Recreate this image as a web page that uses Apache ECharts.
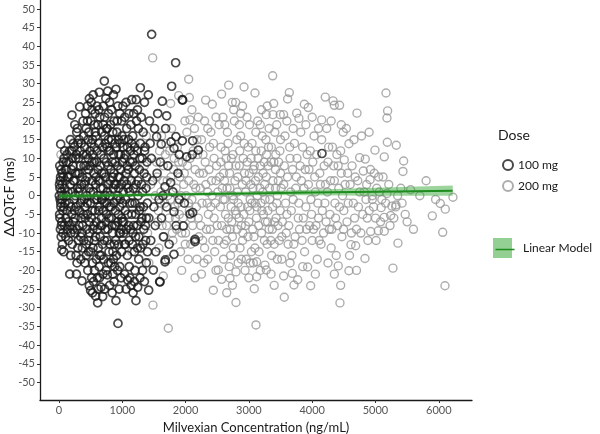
<!DOCTYPE html>
<html>
<head>
<meta charset="utf-8">
<script src="https://cdn.jsdelivr.net/npm/echarts@6/dist/echarts.min.js"></script>
<style>
  html, body { margin: 0; padding: 0; background: #fff; }
  #chart { width: 600px; height: 434px; }
</style>
</head>
<body>
<div id="chart"></div>
<script>
// 坐标轴刻度
var xTicks = [0, 1000, 2000, 3000, 4000, 5000, 6000];
var yTicks = [-50, -45, -40, -35, -30, -25, -20, -15, -10, -5, 0, 5, 10, 15, 20, 25, 30, 35, 40, 45, 50];

// 100 mg: [浓度, ΔΔQTcF]
var dose100 = [
  [12,8],[25,5],[8,3],[40,1],[18,-1],[30,-3],[10,-5],[45,-7],[22,-9],[35,-11],[60,-4],[15,2],[50,6],[28,-2],[70,0],[80,10],[55,-13],[90,12],[27,13.8],[43,-14.5],[100,4],[110,-6],[120,7],[130,-9],[140,1],[95,-2],[65,9],[150,-12],[75,-15],[125,11],
  [170,-21],[205,21.6],[180,15],[200,12],[220,8],[240,4],[260,0],[190,-3],[230,-7],[250,-10],[210,-13],[270,-16],[276,-21],[290,18],[300,14],[310,10],[320,6],[330,2],[340,-2],[350,-6],[360,-10],[370,-14],[363,-22.8],[327,23.8],[280,17],[380,20],[390,16],[160,5],[175,-8],[215,1],[245,-4],[285,-18],[305,-12],[335,12],[395,8],[400,-1],[345,-17],[265,10],[225,14],[185,-16],[355,3],[315,-8],[385,-5],[295,6],[250,19],
  [420,22],[450,24],[480,26],[510,25],[540,27],[637,27.7],[600,24],[570,22],[430,18],[460,15],[490,12],[520,9],[550,6],[580,3],[610,0],[640,-3],[670,-6],[440,-9],[470,-12],[500,-15],[530,-18],[560,-20],[590,-17],[620,-14],[650,-11],[680,-8],[479,-24.1],[500,-25.4],[580,-26.9],[611,-28.7],[664,-24.5],[420,4],[445,-2],[465,7],[495,1],[525,-4],[555,13],[585,16],[615,19],[645,21],[675,17],[690,13],[415,-6],[435,11],[505,20],[535,-9],[565,-1],[595,9],[625,4],[655,2],[685,-1],[410,-18],[455,-20],[515,-22],[545,-23],[605,-22],[635,-19],[665,-16],[695,-21],[470,17],[530,15],[590,-7],[650,8],[700,24],[480,-7],[560,-12],[620,-25],[690,-27],
  [716,30.7],[740,26],[770,28],[800,25],[830,23],[860,27],[900,28.5],[930,24],[960,22],[990,20],[720,21],[750,18],[780,15],[810,12],[840,9],[870,6],[900,3],[930,0],[960,-3],[990,-6],[730,-9],[760,-12],[790,-15],[820,-18],[850,-21],[880,-19],[910,-16],[940,-13],[970,-10],[1000,-7],[763,-21.2],[900,-28.1],[932,-34.2],[800,-24],[840,-26],[870,-23],[950,-25],[980,-22],[710,10],[735,5],[765,1],[795,-3],[825,-6],[855,2],[885,14],[915,17],[945,11],[975,7],[720,-2],[750,-5],[780,8],[810,4],[845,-10],[875,-13],[905,-8],[935,5],[965,14],[995,16],[705,-17],[745,-20],[815,19],[870,20],[925,-20],[990,-15],[760,13],[890,-4],[940,-5],[720,16],
  [1037,-21],[1085,-22.6],[1150,25.7],[1220,25.7],[1285,28.9],[1010,24],[1040,21],[1070,18],[1100,15],[1130,12],[1160,9],[1190,6],[1220,3],[1250,0],[1280,-3],[1310,-6],[1340,-9],[1370,-12],[1020,-10],[1050,-13],[1080,-16],[1110,-19],[1140,-24],[1170,-26],[1216,-28.1],[1243,-24.5],[1200,-20],[1260,-17],[1290,-14],[1320,-20],[1350,-23],[1380,-18],[1030,10],[1060,6],[1090,2],[1120,-2],[1150,-5],[1180,-8],[1210,-11],[1240,-14],[1015,1],[1045,-4],[1075,8],[1105,22],[1135,19],[1165,16],[1195,13],[1225,20],[1255,18],[1285,14],[1315,10],[1345,6],[1375,2],[1395,-2],[1300,21],[1330,17],[1360,13],[1390,9],[1025,15],[1200,-2],[1270,7],[1320,1],[1100,-8],[1160,-13],[1380,-6],
  [1411,27],[1464,43.2],[1843,35.6],[1780,29.3],[1954,25.6],[1632,25.3],[1948,25.7],[1701,21.4],[1685,18],[1848,15.8],[1948,14.7],[2112,14.7],[2201,12.2],[2106,11],[1543,15.8],[1616,13.8],[1770,14.4],[1817,12.7],[2017,10.4],[1880,6],[1764,3.5],[1675,2.4],[2112,-4.5],[1817,-4.3],[2070,-4.9],[2149,-11.7],[1964,-8.1],[1817,-15.7],[1675,-17.7],[1591,-23],[1490,-19.9],[1417,-25.3],[1596,-23.1],[1680,-17.2],[2149,-12.3],[1430,20],[1460,10],[1480,4],[1500,-3],[1520,-8],[1450,-12],[1550,6],[1580,-1],[1600,9],[1620,-6],[1650,-11],[1700,-3],[1720,8],[1740,-13],[1800,1],[1850,-8],[1900,-1],[1420,-6],[1440,14],[1510,18],[1530,-15],[1560,22],[1640,0],[1900,11],[1980,-2],[4155,11.3],
  [5,0],[14,-6],[20,4],[33,7],[38,-8],[48,-1],[52,3],[62,-10],[68,5],[78,-3],[85,-8],[88,2],[98,7],[105,-11],[115,0],[118,9],[128,-4],[135,5],[145,-7],[155,9],[162,-2],[168,12],[178,3],[188,-10],[195,7],[202,-5],[212,10],[218,-9],[228,4],[235,-1],[242,13],[255,-6],[262,6],[272,-3],[278,11],[288,-9],[292,2],[298,-14],
  [308,1],[318,15],[322,-4],[338,8],[342,-11],[352,14],[358,-1],[368,5],[375,-8],[382,11],[392,-12],[398,3],[405,13],[412,-3],[425,8],[432,-13],[438,0],[448,5],[452,-5],[462,10],[468,-15],[476,2],[485,-10],[488,8],[498,-2],[508,14],[512,-6],[522,4],[528,11],[538,-14],[542,1],[552,-8],[558,9],[568,-4],[572,17],[578,-11],[588,5],[598,-1],[602,12],[608,-9],[618,7],[628,-4],[632,14],[642,-16],[648,4],[658,-8],[662,11],[672,-1],[678,6],[688,-13],[698,2],
  [702,-4],[712,6],[718,-12],[728,14],[732,0],[742,-7],[748,9],[758,-2],[762,18],[772,-9],[778,3],[788,12],[792,-6],[802,0],[808,-13],[818,7],[822,-3],[832,15],[838,-8],[848,5],[852,-15],[862,11],[868,-2],[878,3],[882,-8],[892,9],[898,-12],[908,13],[912,-1],[922,8],[928,-7],[938,15],[942,2],[952,-10],[958,5],[968,-1],[972,11],[982,-9],[988,3],[998,9],
  [1005,-2],[1012,13],[1022,-7],[1028,4],[1035,-13],[1048,11],[1055,-1],[1062,-9],[1072,3],[1082,13],[1088,-5],[1095,7],[1108,-12],[1115,1],[1125,9],[1132,-9],[1142,4],[1148,14],[1155,-2],[1168,-10],[1175,2],[1185,11],[1192,-15],[1205,8],[1212,-5],[1230,-8],[1235,12],[1248,4],[1262,-11],[1268,-4],[1278,10],[1295,-7],[1305,3],[1325,-13],[1335,-3],[1352,12],[1365,-8],[1385,5],[1398,-15],
  [560,19],[630,23],[700,19],[780,22],[850,17],[920,20],[1060,25],[1180,22],[1240,23],[1350,25],[450,20],[520,23],
  [640,-22],[720,-25],[780,-18],[860,-17],[960,-19],[1060,-25],[1120,-22],[1190,-23],[1280,-22],[530,-26],[430,-16]
];

// 200 mg: [浓度, ΔΔQTcF]
var dose200 = [
  [30,11],[150,-8],[250,6],[400,-3],[550,10],[700,-6],[850,3],[1000,-12],[1100,5],[1200,14],[1300,-4],[1350,8],[1400,-10],[1450,3],[1480,36.9],[1485,-29.3],[1420,-18],[1380,16],[900,-16],[1250,-8],[600,-1],[1150,-15],
  [1727,-35.5],[1891,26.8],[1764,24.7],[2049,31.2],[2059,26.3],[2070,20.3],[1648,-21.5],[1938,-20],[2149,-22],[2317,25.6],[2422,24.5],[2438,-25.3],[2517,-19.9],[2569,-22.4],
  [1550,5],[1600,-2],[1650,8],[1700,-8],[1750,12],[1800,-12],[1850,2],[1900,-5],[1950,9],[2000,-10],[2050,4],[2100,-1],[2150,7],[2200,-6],[2250,15],[2300,-14],[2350,1],[2400,-3],[2450,10],[2500,-8],
  [1580,-14],[1620,16],[1680,11],[1730,-17],[1780,18],[1830,-3],[1870,13],[1920,-15],[1970,3],[2020,17],[2080,-13],[2120,12],[2180,-17],[2230,2],[2280,6],[2330,-9],[2380,13],[2430,-12],[2480,4],[2530,19],
  [1560,-7],[1610,1],[1660,-11],[1710,4],[1760,-1],[1810,7],[1860,-9],[1910,5],[1960,-6],[2010,0],[2060,-4],[2110,-8],[2160,2],[2210,-11],[2260,-2],[2310,9],[2360,-5],[2410,4],[2460,-15],[2510,1],
  [1990,20],[2140,18],[2200,21],[2040,-17],[2350,18],[2290,-18],[2450,-6],[2400,17],[2100,23],[2250,-21],
  [2681,29.6],[2923,29.1],[3096,27.5],[2569,27.2],[2738,25],[2791,25],[3376,32.1],[3392,24.7],[3274,21.7],[3380,21.7],[2796,-28.6],[3112,-34.6],[3085,-24.9],[2796,-20.4],[2701,-22.1],[3123,-21.7],[3275,-19.9],[3254,-18.6],[3123,-17.7],
  [2550,-3],[2600,6],[2650,-9],[2700,2],[2750,11],[2800,-5],[2850,8],[2900,-12],[2950,1],[3000,-7],[3050,14],[3100,-2],[3150,5],[3200,-10],[3250,3],[3300,-4],[3350,9],[3400,-13],[3450,0],[3500,6],
  [2560,13],[2610,-13],[2660,17],[2710,-16],[2760,-1],[2810,15],[2860,-14],[2910,10],[2960,-17],[3010,19],[3060,-9],[3110,12],[3160,-15],[3210,16],[3260,-7],[3310,13],[3360,-16],[3410,17],[3460,-8],[3490,12],
  [2580,2],[2630,-5],[2680,8],[2730,-7],[2780,4],[2830,-2],[2880,-8],[2930,6],[2980,-3],[3030,3],[3080,-11],[3130,0],[3180,8],[3230,-5],[3280,11],[3330,-1],[3380,4],[3430,-6],[3470,9],[3520,-11],
  [2590,21],[2640,10],[2690,-19],[2740,-11],[2770,20],[2830,-18],[2870,22],[2940,-20],[2990,13],[3040,-15],[3070,7],[3140,20],[3190,-2],[3240,9],[3290,-13],[3320,18],[3370,-9],[3420,7],[3450,-17],[3500,15],
  [2620,-1],[2720,-3],[2820,1],[2920,-5],[3020,-1],[3120,-6],[3220,1],[3320,-9],[3420,2],[2670,14],[2870,16],[3070,-18],[3270,15],[2900,24],[3000,-22],[3200,23],
  [3639,27.6],[3612,25.9],[3495,21.7],[3548,21.7],[3755,22.1],[3876,24.5],[3938,23.6],[3791,20.7],[4150,20.3],[4207,26.4],[4330,25.4],[4349,24.2],[4433,24.2],[3559,-27.2],[4439,-28.7],[3976,-24.1],[3712,-23.9],[3771,-22.5],[3549,-21.5],[3686,-20.8],[3928,-19.1],[4412,-18.8],[4581,-20.1],
  [3550,3],[3600,-5],[3650,10],[3700,-1],[3750,5],[3800,-9],[3850,13],[3900,-3],[3950,7],[4000,-12],[4050,1],[4100,-6],[4150,15],[4200,-2],[4250,9],[4300,-14],[4350,4],[4400,-8],[4450,12],[4500,-4],
  [3570,16],[3620,-13],[3680,-16],[3720,14],[3780,-6],[3820,17],[3880,-15],[3920,11],[3980,-1],[4030,16],[4080,-17],[4120,6],[4180,-10],[4230,18],[4280,-5],[4320,13],[4380,-16],[4420,2],[4470,-11],[4490,17],
  [3590,-10],[3660,1],[3730,-11],[3810,8],[3870,2],[3960,-8],[4010,9],[4060,-8],[4140,-13],[4210,3],[4270,-9],[4360,-2],[4410,8],[4480,0],
  [4507,9.6],[4581,13.9],[4750,10.2],[4839,9.8],[4708,22.1],[4808,6.6],[4981,6],[4915,4.3],[4992,12.2],[5139,10.4],[5187,14.3],[5329,13.5],[5445,9.3],[5434,6.5],[5166,27.5],[5192,22.7],[5181,20.8],[5555,1.6],[6024,-2.1],[6103,-3.6],[6224,-0.4],[5898,-5.4],[5324,-2.5],[5181,0.6],[6062,-9.8],[5355,-12.7],[5276,-19.4],[6098,-24.1],[5139,-9.5],[5240,-5.3],[5139,-5.8],[5320,-3],[5260,-2.8],[5090,-3.2],[4834,-16.8],[5045,-9.4],[4924,-9.6],[4613,-13.1],[4687,-13.4],
  [4550,-7],[4600,3],[4650,-2],[4700,-9],[4750,1],[4800,-5],[4850,-1],[4900,-4],[4950,0],[5000,-6],[4560,6],[4620,-10],[4680,5],[4730,-3],[4780,16],[4860,3],[4880,-12],[4950,-1],[5020,2],[5080,-7],[4660,15],[4540,18],[4590,-16],[4900,17],[5050,5],[5100,-1],[5230,-8],[5400,2],[5470,-5],[5600,-9],[5700,0],[5800,4],[5950,-1],[4700,-20],[4450,-24],
  [1520,0],[1540,9],[1570,-4],[1590,12],[1630,-8],[1640,4],[1670,-2],[1690,14],[1720,0],[1740,-6],[1770,5],[1790,-10],[1820,10],[1840,-6],[1880,-2],[1890,9],[1930,0],[1940,-10],[1980,6],[1995,-13],[2030,8],[2045,-2],[2070,10],[2090,-6],[2130,3],[2140,-12],[2170,-3],[2190,11],[2220,6],[2240,-8],[2270,-12],[2275,11],[2320,3],[2340,-2],[2370,7],[2390,-9],[2420,0],[2440,14],[2470,-2],[2490,8],[2520,-12],[2540,5],
  [2555,9],[2570,-8],[2595,-1],[2615,4],[2625,12],[2645,-12],[2655,2],[2675,-6],[2695,6],[2705,-9],[2725,10],[2745,0],[2755,-14],[2785,-4],[2795,8],[2815,-9],[2825,5],[2845,-6],[2855,12],[2875,-3],[2895,3],[2905,-10],[2925,14],[2945,-8],[2955,4],[2975,9],[2985,-11],[3005,6],[3015,-4],[3035,10],[3045,-2],[3065,2],[3085,8],[3095,-14],[3105,4],[3125,-3],[3145,10],[3155,-8],[3175,2],[3195,12],[3205,-4],[3225,6],[3245,-12],[3255,-1],[3275,5],[3295,-7],[3305,8],[3325,2],[3345,-12],[3355,13],[3375,-3],[3395,9],[3405,-7],[3425,11],[3440,-2],[3465,4],[3480,-12],[3495,-4],
  [3510,2],[3530,-7],[3560,8],[3580,-2],[3610,5],[3630,-8],[3645,13],[3670,-4],[3690,7],[3710,-13],[3740,2],[3760,10],[3790,-2],[3830,4],[3840,-12],[3860,-6],[3890,7],[3910,-9],[3940,3],[3970,12],[3990,-5],[4020,-9],[4040,5],[4070,11],[4090,-2],[4110,-12],[4130,3],[4160,-4],[4190,8],[4220,-7],[4240,1],[4260,13],[4290,4],[4310,-9],[4340,8],[4370,-6],[4390,11],[4430,-3],[4460,6],[4495,-9],
  [4520,3],[4570,-2],[4630,8],[4670,-6],[4720,4],[4770,-10],[4820,1],[4870,-6],[4920,7],[4970,-3],[5010,-12],[5060,1],[5120,5],[5160,-2],[5210,3],[5290,-6],[5350,0],[5420,-2],[5500,-7],
  [2480,21],[2620,19],[2760,23],[2850,19],[2970,21],[3110,17],[3180,19],[3290,24],[3440,19],[3600,20],[3700,18],[3900,19],[4000,21],[4100,18],[4300,20],[4460,19],[2300,20],[2180,15],
  [2350,-17],[2480,-20],[2600,-17],[2740,-24],[2880,-17],[3020,-18],[3180,-20],[3350,-21],[3520,-17],[3650,-18],[3850,-19],[4050,-21],[4250,-18],[4350,-21],[3400,-24],[2650,-26]
];

// 线性模型及置信区间
var fitX  = [0, 1000, 2000, 3000, 4000, 5000, 6220];
var fitY  = [-0.1, 0.13, 0.37, 0.6, 0.84, 1.07, 1.36];
var fitLo = [-0.8, -0.32, -0.03, 0.1, 0.09, 0.02, -0.04];
var fitHi = [0.6, 0.58, 0.77, 1.1, 1.59, 2.12, 2.76];

var font = 'Lato, "DejaVu Sans", sans-serif';

var chart = echarts.init(document.getElementById('chart'));

var option = {
  animation: false,
  textStyle: { fontFamily: font },
  grid: { left: 40, top: 0, right: 128, bottom: 34, containLabel: false, outerBoundsMode: 'none' },
  xAxis: {
    type: 'value',
    min: -300,
    max: 6525,
    name: 'Milvexian Concentration (ng/mL)',
    nameLocation: 'middle',
    nameGap: 17,
    nameTextStyle: { fontSize: 13, color: '#1a1a1a', fontFamily: font },
    axisLine: { show: true, onZero: false, lineStyle: { color: '#1a1a1a', width: 1.3 } },
    axisTick: { show: true, length: 3, lineStyle: { color: '#333' }, customValues: xTicks },
    axisLabel: { fontSize: 11, color: '#555', margin: 5, customValues: xTicks, formatter: function (v) { return String(v); } },
    splitLine: { show: false }
  },
  yAxis: {
    type: 'value',
    min: -54.7,
    max: 52.4,
    axisLine: { show: true, onZero: false, lineStyle: { color: '#1a1a1a', width: 1.3 } },
    axisTick: { show: true, length: 3, lineStyle: { color: '#333' }, customValues: yTicks },
    axisLabel: { fontSize: 11, color: '#555', margin: 5, customValues: yTicks },
    splitLine: { show: false }
  },
  legend: {
    data: ['100 mg', '200 mg'],
    orient: 'vertical',
    left: 497,
    top: 154,
    itemWidth: 10,
    itemHeight: 10,
    itemGap: 9,
    textStyle: { fontSize: 12, color: '#1a1a1a', fontFamily: font }
  },
  graphic: [
    // y 轴标题
    { type: 'text', x: 9, y: 197, rotation: Math.PI / 2, style: { text: 'ΔΔQTcF (ms)', fontSize: 14, fill: '#1a1a1a', fontFamily: font, align: 'center', verticalAlign: 'middle' } },
    { type: 'text', left: 498, top: 128, style: { text: 'Dose', fontSize: 14, fill: '#1a1a1a', fontFamily: font } },
    { type: 'rect', left: 493, top: 238, shape: { width: 19, height: 20 }, style: { fill: 'rgba(60,170,60,0.55)' } },
    { type: 'line', left: 493, top: 247, shape: { x1: 0, y1: 0, x2: 19, y2: 0 }, style: { stroke: '#1e8c1e', lineWidth: 1.5 } },
    { type: 'text', left: 523, top: 242, style: { text: 'Linear Model', fontSize: 12, fill: '#1a1a1a', fontFamily: font } }
  ],
  series: [
    {
      name: '200 mg',
      type: 'scatter',
      symbol: 'circle',
      symbolSize: 8,
      data: dose200,
      itemStyle: { color: 'rgba(0,0,0,0)', borderColor: '#999999', borderWidth: 1.4 },
      z: 2
    },
    {
      name: '100 mg',
      type: 'scatter',
      symbol: 'circle',
      symbolSize: 8,
      data: dose100,
      itemStyle: { color: 'rgba(0,0,0,0)', borderColor: '#1a1a1a', borderWidth: 1.7 },
      z: 3
    },
    {
      name: 'band',
      type: 'custom',
      z: 4,
      silent: true,
      data: [0],
      renderItem: function (params, api) {
        var pts = [];
        for (var i = 0; i < fitX.length; i++) pts.push(api.coord([fitX[i], fitHi[i]]));
        for (var j = fitX.length - 1; j >= 0; j--) pts.push(api.coord([fitX[j], fitLo[j]]));
        return { type: 'polygon', shape: { points: pts }, style: { fill: 'rgba(60,170,60,0.5)' } };
      }
    },
    {
      name: 'Linear Model',
      type: 'line',
      z: 5,
      symbol: 'none',
      data: fitX.map(function (x, i) { return [x, fitY[i]]; }),
      lineStyle: { color: '#1e8c1e', width: 2 }
    }
  ]
};

chart.setOption(option);
</script>
</body>
</html>
